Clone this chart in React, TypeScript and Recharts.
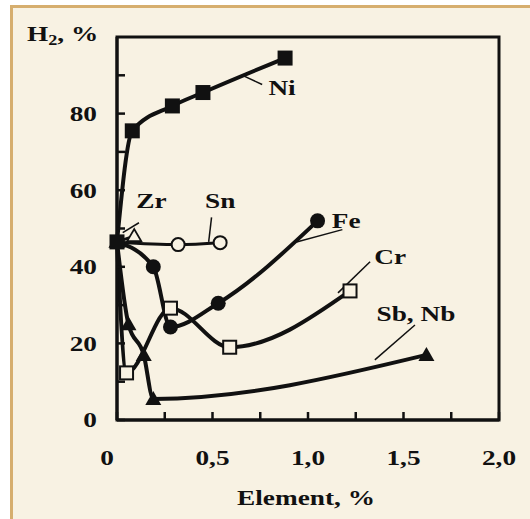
import { LineChart, Line, XAxis, YAxis, ReferenceArea, ReferenceLine, ReferenceDot } from 'recharts';

// values (x: element %, y: H2 %)
const niX = [0, 0.08, 0.29, 0.45, 0.88];
const niY = [46.5, 75.5, 82, 85.5, 94.5];
const snX = [0, 0.32, 0.54];
const snY = [46.5, 45.8, 46.3];
const zrX = [0, 0.09];
const zrY = [46.5, 48];
const feX = [0, 0.19, 0.28, 0.53, 1.05];
const feY = [46.5, 40, 24.3, 30.5, 52];
const crX = [0, 0.05, 0.28, 0.59, 1.22];
const crY = [46.5, 12.3, 29.2, 19, 33.7];
const sbX = [0, 0.06, 0.14, 0.19, 1.62];
const sbY = [46.5, 25, 17, 5.5, 17];

const xTicks = [0, 0.25, 0.5, 0.75, 1, 1.25, 1.5, 1.75, 2];
const yTicks = [0, 10, 20, 30, 40, 50, 60, 70, 80, 90];

// series name labels and their leader lines
const labelNames = ['Ni', 'Zr', 'Sn', 'Fe', 'Cr', 'Sb, Nb'];
const labelX = [0.864, 0.18, 0.54, 1.2, 1.43, 1.565];
const labelY = [86.8, 57.3, 57.3, 52, 42.6, 27.7];
const leaderFrom = [[0.66, 89.9], [0.03, 48.9], [0.495, 52.9], [0.94, 46.5], [1.157, 33.2], [1.35, 15.7]];
const leaderTo = [[0.76, 87.6], [0.115, 51.5], [0.48, 46.5], [1.18, 49.7], [1.325, 41.3], [1.56, 24.8]];

const toPoints = (xs: number[], ys: number[]) => xs.map((x, i) => ({ x, y: ys[i] }));

const CREAM = '#f8f2e3';
const TAN = '#d6ae6e';
const INK = '#111';
const FONT = "'Liberation Serif', 'Times New Roman', serif";

const textStyle = { fontFamily: FONT, fontWeight: 700, fontSize: 21, fill: INK };

const XTick = ({ x, y, payload }: any) => {
  const v = payload.value;
  if (Math.abs(v * 2 - Math.round(v * 2)) > 1e-6) return <g />;
  const label = v === 0 ? '0' : v.toFixed(1).replace('.', ',');
  const dx = v === 0 ? -10 : 0;
  return (
    <text transform={`translate(${x + dx},${y}) scale(1.3,1)`} textAnchor="middle" dominantBaseline="central" style={textStyle}>
      {label}
    </text>
  );
};

const YTick = ({ x, y, payload }: any) => {
  const v = payload.value;
  if (v % 20 !== 0) return <g />;
  return (
    <text transform={`translate(${x},${y}) scale(1.3,1)`} textAnchor="end" dominantBaseline="central" style={textStyle}>
      {v}
    </text>
  );
};

const skipFirst = (draw: (cx: number, cy: number) => any) => (p: any) => {
  const { cx, cy, index } = p;
  if (index === 0 || cx == null) return <g key={`d-${index}`} />;
  return <g key={`d-${index}`}>{draw(cx, cy)}</g>;
};
const allDots = (draw: (cx: number, cy: number) => any) => (p: any) => {
  const { cx, cy, index } = p;
  if (cx == null) return <g key={`d-${index}`} />;
  return <g key={`d-${index}`}>{draw(cx, cy)}</g>;
};

const filledSquare = (cx: number, cy: number) => <rect x={cx - 7.5} y={cy - 7.5} width={15} height={15} fill={INK} />;
const openSquare = (cx: number, cy: number) => (
  <rect x={cx - 6.5} y={cy - 6.5} width={13} height={13} fill={CREAM} stroke={INK} strokeWidth={2} />
);
const filledCircle = (cx: number, cy: number) => <circle cx={cx} cy={cy} r={7.5} fill={INK} />;
const openCircle = (cx: number, cy: number) => <circle cx={cx} cy={cy} r={6.5} fill={CREAM} stroke={INK} strokeWidth={2} />;
const filledTriangle = (cx: number, cy: number) => (
  <polygon points={`${cx},${cy - 8} ${cx - 8},${cy + 6} ${cx + 8},${cy + 6}`} fill={INK} />
);
const openTriangle = (cx: number, cy: number) => (
  <polygon points={`${cx},${cy - 7} ${cx - 7},${cy + 5} ${cx + 7},${cy + 5}`} fill={CREAM} stroke={INK} strokeWidth={1.8} />
);

const NameLabel = (text: string) => (p: any) => (
  <text transform={`translate(${p.cx},${p.cy}) scale(1.3,1)`} textAnchor="middle" dominantBaseline="central" style={textStyle}>
    {text}
  </text>
);

export default function App() {
  return (
    <div style={{ position: 'absolute', left: 0, top: 0, width: 530, height: 519, background: '#fff', overflow: 'hidden' }}>
      <div
        style={{
          position: 'absolute',
          left: 10,
          top: 5,
          width: 540,
          height: 540,
          background: CREAM,
          borderLeft: `3px solid ${TAN}`,
          borderTop: `3px solid ${TAN}`,
        }}
      />
      <div style={{ position: 'absolute', left: 0, top: 0 }}>
        <LineChart width={530} height={519} margin={{ top: 37, right: 31, bottom: 49, left: 57 }}>
          <XAxis
            type="number"
            dataKey="x"
            domain={[0, 2]}
            ticks={xTicks}
            interval={0}
            height={50}
            tickSize={-8}
            tickMargin={46}
            tick={<XTick />}
            axisLine={{ stroke: INK, strokeWidth: 3 }}
            tickLine={{ stroke: INK, strokeWidth: 2.5 }}
          />
          <YAxis
            type="number"
            dataKey="y"
            domain={[0, 100]}
            ticks={yTicks}
            interval={0}
            width={60}
            tickSize={-8}
            tickMargin={28}
            tick={<YTick />}
            axisLine={{ stroke: INK, strokeWidth: 3 }}
            tickLine={{ stroke: INK, strokeWidth: 2.5 }}
          />
          <ReferenceArea x1={0} x2={2} y1={0} y2={100} fill="none" stroke={INK} strokeWidth={3} fillOpacity={0} />

          {labelNames.map((n, i) => (
            <ReferenceLine
              key={`ll-${n}`}
              segment={[
                { x: leaderFrom[i][0], y: leaderFrom[i][1] },
                { x: leaderTo[i][0], y: leaderTo[i][1] },
              ]}
              stroke={INK}
              strokeWidth={1.5}
            />
          ))}

          <Line data={toPoints(zrX, zrY)} dataKey="y" type="linear" stroke={INK} strokeWidth={3} dot={allDots(openTriangle)} isAnimationActive={false} />
          <Line data={toPoints(snX, snY)} dataKey="y" type="monotone" stroke={INK} strokeWidth={3} dot={skipFirst(openCircle)} isAnimationActive={false} />
          <Line data={toPoints(sbX, sbY)} dataKey="y" type="monotone" stroke={INK} strokeWidth={4} dot={skipFirst(filledTriangle)} isAnimationActive={false} />
          <Line data={toPoints(crX, crY)} dataKey="y" type="monotone" stroke={INK} strokeWidth={4} dot={skipFirst(openSquare)} isAnimationActive={false} />
          <Line data={toPoints(feX, feY)} dataKey="y" type="monotone" stroke={INK} strokeWidth={4} dot={skipFirst(filledCircle)} isAnimationActive={false} />
          <Line data={toPoints(niX, niY)} dataKey="y" type="monotone" stroke={INK} strokeWidth={4} dot={allDots(filledSquare)} isAnimationActive={false} />

          {labelNames.map((n, i) => (
            <ReferenceDot key={`lb-${n}`} x={labelX[i]} y={labelY[i]} r={0} shape={NameLabel(n)} />
          ))}
        </LineChart>
      </div>
      <svg width={530} height={519} style={{ position: 'absolute', left: 0, top: 0, pointerEvents: 'none' }}>
        <text transform="translate(27,41) scale(1.3,1)" style={textStyle}>
          H<tspan fontSize={14} dy={4}>2</tspan>
          <tspan dy={-4}>, %</tspan>
        </text>
        <text transform="translate(306,505) scale(1.3,1)" textAnchor="middle" style={textStyle}>
          Element, %
        </text>
      </svg>
    </div>
  );
}
